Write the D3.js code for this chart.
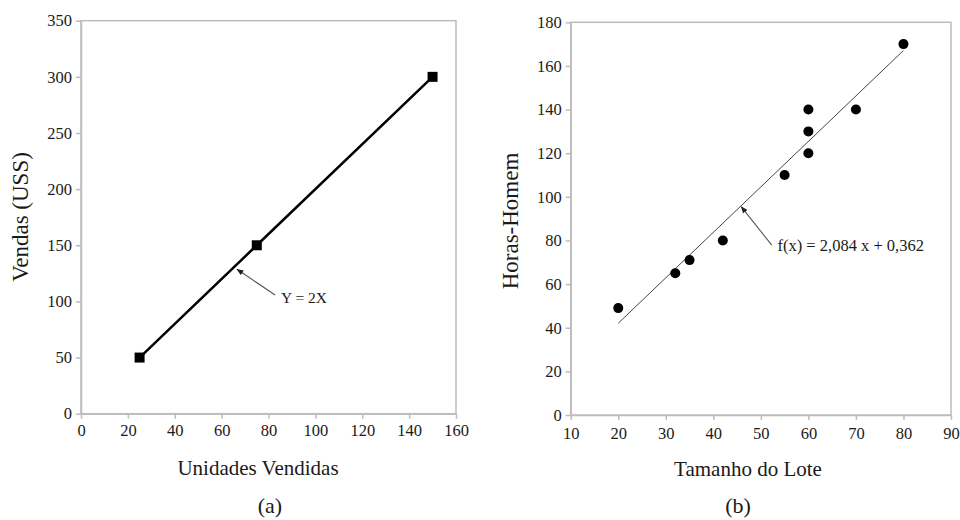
<!DOCTYPE html>
<html><head><meta charset="utf-8">
<script src="https://cdn.jsdelivr.net/npm/d3@7"></script>
<style>
body{margin:0;background:#fff;}
svg{display:block;}
text{font-family:"Liberation Serif","Times New Roman",serif;fill:#1a1a1a;}
</style></head>
<body>
<svg id="chart" width="960" height="520"></svg>
<script>
// ---- Data: chart (a)
const salesUnits = [25, 75, 150];
const salesValues = [50, 150, 300];
const xTicksA = [0, 20, 40, 60, 80, 100, 120, 140, 160];
const yTicksA = [0, 50, 100, 150, 200, 250, 300, 350];
// ---- Data: chart (b)
const lotSize = [20, 32, 35, 42, 55, 60, 60, 60, 70, 80];
const manHours = [49, 65, 71, 80, 110, 120, 130, 140, 140, 170];
const fitSlope = 2.084, fitIntercept = 0.362, fitRange = [20, 80];
const xTicksB = [10, 20, 30, 40, 50, 60, 70, 80, 90];
const yTicksB = [0, 20, 40, 60, 80, 100, 120, 140, 160, 180];

const svg = d3.select("#chart");
const grey = "#bdbdbd";

svg.append("defs").append("marker")
  .attr("id","arr").attr("viewBox","0 0 10 10").attr("refX",9).attr("refY",5)
  .attr("markerWidth",7).attr("markerHeight",7).attr("markerUnits","userSpaceOnUse")
  .attr("orient","auto")
  .append("path").attr("d","M0,1 L10,5 L0,9 Z").attr("fill","#222");

function frame(g, x, y, xTicks, yTicks, xPad) {
  const [x0,x1] = x.range(), [y0,y1] = y.range();
  g.append("rect").attr("x",x0).attr("y",y1).attr("width",x1-x0).attr("height",y0-y1)
    .attr("fill","none").attr("stroke",grey).attr("stroke-width",1.5);
  const ax = g.append("g").attr("transform",`translate(0,${y0})`)
    .call(d3.axisBottom(x).tickValues(xTicks).tickSize(5).tickPadding(xPad).tickSizeOuter(0));
  const ay = g.append("g").attr("transform",`translate(${x0},0)`)
    .call(d3.axisLeft(y).tickValues(yTicks).tickSize(5).tickPadding(4).tickSizeOuter(0));
  [ax,ay].forEach(a=>{
    a.attr("font-family",null);
    a.selectAll("path,line").attr("stroke",grey).attr("stroke-width",1.5);
    a.selectAll("text").style("font-family",'"Liberation Serif","Times New Roman",serif')
      .style("font-size","16.5px").attr("fill","#1a1a1a");
  });
}

// ---------- Chart (a)
const gA = svg.append("g");
const xA = d3.scaleLinear().domain([0,160]).range([81,456]);
const yA = d3.scaleLinear().domain([0,350]).range([413.7,20.7]);
frame(gA, xA, yA, xTicksA, yTicksA, 6);

const ptsA = salesUnits.map((u,i)=>[u, salesValues[i]]);
gA.append("path").datum(ptsA)
  .attr("d", d3.line().x(d=>xA(d[0])).y(d=>yA(d[1])))
  .attr("fill","none").attr("stroke","#000").attr("stroke-width",2.5);
gA.selectAll("rect.pt").data(ptsA).join("rect").attr("class","pt")
  .attr("x",d=>xA(d[0])-5).attr("y",d=>yA(d[1])-5).attr("width",10).attr("height",10)
  .attr("fill","#000");

// annotation (a)
const annA = {from:[82.8,105.7], to:[66.6,128.6], text:[85.3,98.8], label:"Y = 2X"};
gA.append("line").attr("x1",xA(annA.from[0])).attr("y1",yA(annA.from[1]))
  .attr("x2",xA(annA.to[0])).attr("y2",yA(annA.to[1]))
  .attr("stroke","#555").attr("stroke-width",1.1).attr("marker-end","url(#arr)");
gA.append("text").attr("x",xA(annA.text[0])).attr("y",yA(annA.text[1]))
  .style("font-size","15.5px").text(annA.label);

gA.append("text").attr("x",258).attr("y",475)
  .attr("text-anchor","middle").style("font-size","21px").text("Unidades Vendidas");
gA.append("text").attr("transform","translate(28,217) rotate(-90)")
  .attr("text-anchor","middle").style("font-size","23px").text("Vendas (USS)");
gA.append("text").attr("x",270).attr("y",513).attr("text-anchor","middle")
  .style("font-size","22px").text("(a)");

// ---------- Chart (b)
const gB = svg.append("g");
const xB = d3.scaleLinear().domain([10,90]).range([570.7,951]);
const yB = d3.scaleLinear().domain([0,180]).range([415,22.3]);
frame(gB, xB, yB, xTicksB, yTicksB, 7);

gB.append("line")
  .attr("x1",xB(fitRange[0])).attr("y1",yB(fitSlope*fitRange[0]+fitIntercept))
  .attr("x2",xB(fitRange[1])).attr("y2",yB(fitSlope*fitRange[1]+fitIntercept))
  .attr("stroke","#444").attr("stroke-width",1);

gB.selectAll("circle.pt").data(lotSize.map((v,i)=>[v,manHours[i]])).join("circle")
  .attr("class","pt").attr("cx",d=>xB(d[0])).attr("cy",d=>yB(d[1])).attr("r",5)
  .attr("fill","#000");

const annB = {from:[52.3,77.9], to:[45.9,95.4], text:[53.5,75.3], label:"f(x) = 2,084 x + 0,362"};
gB.append("line").attr("x1",xB(annB.from[0])).attr("y1",yB(annB.from[1]))
  .attr("x2",xB(annB.to[0])).attr("y2",yB(annB.to[1]))
  .attr("stroke","#555").attr("stroke-width",1.1).attr("marker-end","url(#arr)");
gB.append("text").attr("x",xB(annB.text[0])).attr("y",yB(annB.text[1]))
  .style("font-size","16.5px").text(annB.label);

gB.append("text").attr("x",748).attr("y",476)
  .attr("text-anchor","middle").style("font-size","21px").text("Tamanho do Lote");
gB.append("text").attr("transform","translate(518,221) rotate(-90)")
  .attr("text-anchor","middle").style("font-size","23px").text("Horas-Homem");
gB.append("text").attr("x",738).attr("y",513).attr("text-anchor","middle")
  .style("font-size","22px").text("(b)");
</script>
</body></html>
